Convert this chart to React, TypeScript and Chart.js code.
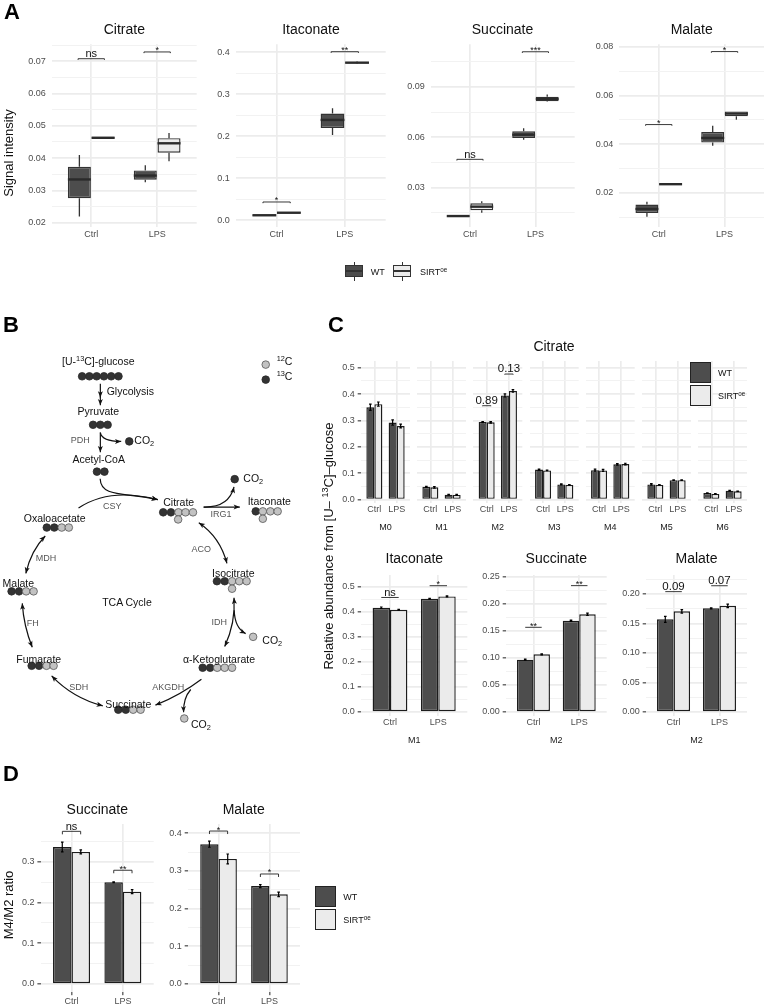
import React, { useEffect, useRef } from "react";
import { Chart, registerables } from "chart.js";

Chart.register(...registerables);
Chart.defaults.font.family = "'Liberation Sans', Arial, sans-serif";

const FONT = "'Liberation Sans', Arial, sans-serif";
const groups = ["Ctrl", "LPS"];
const seriesNames = ["WT", "SIRT"];

// ---------- Panel A: box statistics [low, q1, median, q3, high], Ctrl then LPS
const citrateBoxWT = [[0.0219, 0.0276, 0.0334, 0.0373, 0.041], [0.0325, 0.0333, 0.0346, 0.0362, 0.0378]];
const citrateBoxSIRT = [[0.046, 0.046, 0.0463, 0.0466, 0.0466], [0.039, 0.0417, 0.0446, 0.0462, 0.0478]];
const itaconateBoxWT = [[0.011, 0.011, 0.012, 0.013, 0.013], [0.203, 0.22, 0.239, 0.254, 0.267]];
const itaconateBoxSIRT = [[0.017, 0.017, 0.018, 0.019, 0.019], [0.373, 0.374, 0.3753, 0.3765, 0.378]];
const succinateBoxWT = [[0.0127, 0.0127, 0.0131, 0.0135, 0.0135], [0.0585, 0.0596, 0.0616, 0.0636, 0.0654]];
const succinateBoxSIRT = [[0.0151, 0.0165, 0.0187, 0.0207, 0.0219], [0.0812, 0.0815, 0.0829, 0.0842, 0.0856]];
const malateBoxWT = [[0.0101, 0.0117, 0.0133, 0.0151, 0.0163], [0.0393, 0.0406, 0.0425, 0.0449, 0.0475]];
const malateBoxSIRT = [[0.0233, 0.0233, 0.0235, 0.0237, 0.0237], [0.05, 0.0514, 0.0525, 0.0534, 0.0534]];

const citrateBrackets = [[1, 0.0708, "ns"], [2, 0.0729, "*"]];
const itaconateBrackets = [[1, 0.0436, "*"], [2, 0.4014, "**"]];
const succinateBrackets = [[1, 0.0469, "ns"], [2, 0.111, "***"]];
const malateBrackets = [[1, 0.048, "*"], [2, 0.078, "*"]];

// ---------- Panel C: citrate isotopologues M0..M6 (Ctrl, LPS)
const isotopologues = ["M0", "M1", "M2", "M3", "M4", "M5", "M6"];
const citrateMeansWT = [[0.35, 0.292], [0.049, 0.019], [0.294, 0.395], [0.114, 0.058], [0.112, 0.134], [0.058, 0.074], [0.025, 0.034]];
const citrateMeansSIRT = [[0.362, 0.279], [0.047, 0.018], [0.293, 0.412], [0.111, 0.056], [0.111, 0.135], [0.056, 0.074], [0.022, 0.032]];
const citrateErrorWT = [[0.012, 0.01], [0.002, 0.001], [0.002, 0.006], [0.002, 0.002], [0.004, 0.003], [0.003, 0.001], [0.001, 0.001]];
const citrateErrorSIRT = [[0.008, 0.007], [0.003, 0.002], [0.003, 0.005], [0.001, 0.001], [0.004, 0.003], [0.001, 0.001], [0.001, 0.001]];
const citrateFacetBrackets = [[], [], [[1, 0.356, "0.89"], [2, 0.476, "0.13"]], [], [], [], []];

const itaconateM1WT = [0.416, 0.452];
const itaconateM1SIRT = [0.408, 0.461];
const itaconateM1ErrWT = [0.003, 0.002];
const itaconateM1ErrSIRT = [0.002, 0.002];
const itaconateM1Brackets = [[1, 0.457, "ns"], [2, 0.504, "*"]];
const succinateM2WT = [0.0969, 0.169];
const succinateM2SIRT = [0.1068, 0.181];
const succinateM2ErrWT = [0.001, 0.001];
const succinateM2ErrSIRT = [0.001, 0.002];
const succinateM2Brackets = [[1, 0.1568, "**"], [2, 0.234, "**"]];
const malateM2WT = [0.157, 0.1757];
const malateM2SIRT = [0.1706, 0.18];
const malateM2ErrWT = [0.005, 0.001];
const malateM2ErrSIRT = [0.003, 0.003];
const malateM2Brackets = [[1, 0.204, "0.09"], [2, 0.214, "0.07"]];

// ---------- Panel D: M4/M2 ratio
const ratioSuccinateWT = [0.336, 0.2494];
const ratioSuccinateSIRT = [0.324, 0.2265];
const ratioSuccinateErrWT = [0.012, 0.001];
const ratioSuccinateErrSIRT = [0.005, 0.005];
const ratioSuccinateBrackets = [[1, 0.3745, "ns"], [2, 0.279, "**"]];
const ratioMalateWT = [0.371, 0.26];
const ratioMalateSIRT = [0.332, 0.238];
const ratioMalateErrWT = [0.008, 0.004];
const ratioMalateErrSIRT = [0.013, 0.006];
const ratioMalateBrackets = [[1, 0.406, "*"], [2, 0.292, "*"]];

// ---------- Axis ticks
const citrateTicks = [0.02, 0.03, 0.04, 0.05, 0.06, 0.07];
const citrateMinor = [0.025, 0.035, 0.045, 0.055, 0.065, 0.075];
const itaconateTicks = [0, 0.1, 0.2, 0.3, 0.4];
const itaconateMinor = [0.05, 0.15, 0.25, 0.35];
const succinateTicks = [0.03, 0.06, 0.09];
const succinateMinor = [0.015, 0.045, 0.075, 0.105];
const malateTicks = [0.02, 0.04, 0.06, 0.08];
const malateMinor = [0.01, 0.03, 0.05, 0.07];
const tenthsTicks = [0, 0.1, 0.2, 0.3, 0.4, 0.5];
const tenthsMinor = [0.05, 0.15, 0.25, 0.35, 0.45];
const succM2Ticks = [0, 0.05, 0.1, 0.15, 0.2, 0.25];
const succM2Minor = [0.025, 0.075, 0.125, 0.175, 0.225];
const malM2Ticks = [0, 0.05, 0.1, 0.15, 0.2];
const malM2Minor = [0.025, 0.075, 0.125, 0.175, 0.225];
const ratioSuccTicks = [0, 0.1, 0.2, 0.3];
const ratioSuccMinor = [0.05, 0.15, 0.25, 0.35];
const ratioMalTicks = [0, 0.1, 0.2, 0.3, 0.4];
const ratioMalMinor = [0.05, 0.15, 0.25, 0.35];

// ---------- Pathway schematic (panel B), in page units
const carbon13 = [
  [79.7, 372.3], [87.2, 372.3], [94.7, 372.3], [102.2, 372.3], [109.7, 372.3], [117.2, 372.3],
  [91, 422], [98.5, 422], [106, 422], [95, 470], [102.7, 470], [128.3, 439], [269, 375.7],
  [163.3, 511.7], [171.3, 511.7], [237, 477.7], [258.7, 510.7], [43.3, 527.3], [51, 527.3],
  [218.7, 582.3], [226.7, 582.3], [7, 592.7], [14.7, 592.7], [27.7, 669], [35.3, 669],
  [204, 671], [211.7, 671], [117, 714], [124.7, 714],
];
const carbon12 = [
  [269, 360.3], [179, 511.7], [186.3, 511.7], [194, 511.7], [178.7, 519],
  [266, 510.7], [273.7, 510.7], [281.3, 510.7], [266, 518.3], [58.7, 527.3], [66, 527.3],
  [234.3, 582.3], [241.7, 582.3], [249.3, 582.3], [234.3, 590], [22, 592.7], [29.7, 592.7],
  [43, 669], [50.3, 669], [219, 671], [226.7, 671], [234.3, 671], [132.3, 714], [140, 714],
  [256, 639.3], [185, 723],
];
// points (3 = quadratic, 4 = cubic), then whether start / end carry a head
const reactionArrows: [number[][], boolean, boolean][] = [
  [[[98.5, 380], [98.5, 387], [98.5, 394]], false, true],
  [[[98.5, 392], [98.5, 397], [98.5, 402]], false, true],
  [[[98.5, 430], [98.5, 440], [98.5, 450]], false, true],
  [[[98.5, 430], [100, 439], [120, 439]], false, true],
  [[[98.3, 477.3], [99, 497], [125, 491], [157.7, 498.7]], false, true],
  [[[76, 507.3], [108, 486], [157.7, 498.7]], false, true],
  [[[205, 506.3], [224, 506.3], [242.3, 506.3]], false, true],
  [[[205, 506.3], [231, 507], [236.3, 485.7]], false, true],
  [[[200, 522.3], [222, 537], [229, 564]], true, true],
  [[[236.3, 599.3], [238, 625], [226.7, 649.3]], true, true],
  [[[236.5, 612], [237, 630], [248.3, 636]], false, true],
  [[[202.7, 682.7], [181, 699], [155.3, 709.3]], false, true],
  [[[191.7, 693.3], [184, 702], [184.3, 716.7]], false, true],
  [[[101, 710], [70, 702], [48.3, 679.3]], true, true],
  [[[28.3, 650], [19.5, 628], [18, 605]], true, true],
  [[[41.7, 536], [27, 551], [21.7, 574.3]], true, true],
];
// text, x, y, kind (m = metabolite, e = enzyme), anchor
const pathwayLabels: [string, number, number, string, string][] = [
  ["[U-^{13}C]-glucose", 98.3, 361, "m", "c"],
  ["Glycolysis", 106.7, 391, "m", "l"],
  ["Pyruvate", 98.3, 410.7, "m", "c"],
  ["PDH", 80.3, 440, "e", "c"],
  ["CO_{2}", 134.3, 440, "m", "l"],
  ["Acetyl-CoA", 98.7, 458.7, "m", "c"],
  ["CO_{2}", 243.3, 478.3, "m", "l"],
  ["CSY", 112.3, 506.3, "e", "c"],
  ["Citrate", 178.7, 502.3, "m", "c"],
  ["IRG1", 221, 514, "e", "c"],
  ["Itaconate", 269.3, 501.3, "m", "c"],
  ["Oxaloacetate", 54.7, 518, "m", "c"],
  ["ACO", 201.3, 548.7, "e", "c"],
  ["MDH", 46, 558.3, "e", "c"],
  ["Isocitrate", 233.3, 572.7, "m", "c"],
  ["Malate", 18.3, 583.3, "m", "c"],
  ["TCA Cycle", 127, 602.3, "m", "c"],
  ["FH", 32.7, 622.7, "e", "c"],
  ["IDH", 219.3, 622, "e", "c"],
  ["CO_{2}", 262.3, 640, "m", "l"],
  ["Fumarate", 38.7, 659.3, "m", "c"],
  ["α-Ketoglutarate", 219, 659.3, "m", "c"],
  ["SDH", 78.7, 686.7, "e", "c"],
  ["AKGDH", 168.3, 686.7, "e", "c"],
  ["Succinate", 128.3, 704.3, "m", "c"],
  ["CO_{2}", 191, 723.7, "m", "l"],
  ["^{12}C", 276.7, 360.7, "m", "l"],
  ["^{13}C", 276.7, 375.7, "m", "l"],
];

// ---------- Shared plot
const WT_FILL = "#4d4d4d";
const SIRT_FILL = "#ebebeb";
const GRID = "#ececec";
const GRID_MINOR = "#f2f2f2";

type PlotSpec = {
  box: number[]; // left, right, top, bottom of plot area
  anchor: number[]; // value, pixel, value, pixel
  major: number[];
  minor: number[];
  decimals: number;
  showY?: boolean;
  yTickMark?: boolean;
  xTickMark?: boolean;
  xTitle?: string;
  xTitleY?: number;
  xPad?: number;
  wt?: number[];
  sirt?: number[];
  errWT?: number[];
  errSIRT?: number[];
  boxWT?: number[][];
  boxSIRT?: number[][];
  brackets?: any[];
  halfBracket?: number;
  tip?: number;
  labelPad?: number;
};

function Plot({ spec }: { spec: PlotSpec }) {
  const ref = useRef<HTMLCanvasElement>(null);
  const [left, right, top, bottom] = spec.box;
  const cl = Math.max(0, Math.floor(left - 60));
  const cr = Math.ceil(right + 14);
  const ct = Math.floor(top - 26);
  const titleSize = 9;
  const B = spec.xTitle ? spec.xTitleY! - bottom + (titleSize * 1.2) / 2 : 24;
  const cb = Math.ceil(bottom + B);
  useEffect(() => {
    const [v1, p1, v2, p2] = spec.anchor;
    const ppu = (p1 - p2) / (v2 - v1);
    const yMin = v1 - (bottom - p1) / ppu;
    const yMax = v1 + (p1 - top) / ppu;
    const isBox = !!spec.boxWT;
    const barData = (vals?: number[], stats?: number[][]) =>
      isBox
        ? stats!.map((s, i) => ({ x: i + 1, y: [s[1], s[3]] }))
        : vals!.map((v, i) => ({ x: i + 1, y: v }));
    const overlay = {
      id: "overlay",
      afterDatasetsDraw(chart: any) {
        const ctx = chart.ctx;
        const ys = chart.scales.y;
        const xs = chart.scales.x;
        ctx.save();
        [0, 1].forEach((d) => {
          const meta = chart.getDatasetMeta(d);
          meta.data.forEach((el: any, i: number) => {
            if (isBox) {
              const s = (d === 0 ? spec.boxWT : spec.boxSIRT)![i];
              ctx.strokeStyle = "#333333";
              ctx.lineWidth = 1.3;
              ctx.beginPath();
              ctx.moveTo(el.x, ys.getPixelForValue(s[0]));
              ctx.lineTo(el.x, ys.getPixelForValue(s[1]));
              ctx.moveTo(el.x, ys.getPixelForValue(s[3]));
              ctx.lineTo(el.x, ys.getPixelForValue(s[4]));
              ctx.stroke();
              ctx.lineWidth = 2.4;
              ctx.strokeStyle = "#2b2b2b";
              ctx.beginPath();
              ctx.moveTo(el.x - el.width / 2, ys.getPixelForValue(s[2]));
              ctx.lineTo(el.x + el.width / 2, ys.getPixelForValue(s[2]));
              ctx.stroke();
            } else {
              const v = (d === 0 ? spec.wt : spec.sirt)![i];
              const e = (d === 0 ? spec.errWT : spec.errSIRT)![i];
              const a = ys.getPixelForValue(v - e);
              const b = ys.getPixelForValue(v + e);
              ctx.strokeStyle = "#000";
              ctx.lineWidth = 1.2;
              ctx.beginPath();
              ctx.moveTo(el.x, a);
              ctx.lineTo(el.x, b);
              ctx.moveTo(el.x - 1.3, a);
              ctx.lineTo(el.x + 1.3, a);
              ctx.moveTo(el.x - 1.3, b);
              ctx.lineTo(el.x + 1.3, b);
              ctx.stroke();
            }
          });
        });
        const hw = spec.halfBracket ?? 0.2;
        const tip = spec.tip ?? 1.2;
        (spec.brackets || []).forEach(([cx, v, label]: any) => {
          const y = ys.getPixelForValue(v);
          const a = xs.getPixelForValue(cx - hw);
          const b = xs.getPixelForValue(cx + hw);
          ctx.strokeStyle = "#222";
          ctx.lineWidth = 0.9;
          ctx.beginPath();
          ctx.moveTo(a, y + tip);
          ctx.lineTo(a, y);
          ctx.lineTo(b, y);
          ctx.lineTo(b, y + tip);
          ctx.stroke();
          const stars = /^\*+$/.test(label);
          ctx.fillStyle = "#111";
          ctx.textAlign = "center";
          ctx.textBaseline = "alphabetic";
          ctx.font = (stars ? 9 : label === "ns" ? 11 : 11.5) + "px " + FONT;
          ctx.fillText(label, xs.getPixelForValue(cx), stars ? y + 1.5 : y - 1.7);
        });
        ctx.restore();
      },
    };
    const chart = new Chart(ref.current!, {
      type: "bar",
      data: {
        datasets: [
          {
            label: seriesNames[0],
            data: barData(spec.wt, spec.boxWT) as any,
            backgroundColor: WT_FILL,
            borderColor: isBox ? "#333333" : "#1c1c1c",
            borderWidth: 1.4,
            borderSkipped: false,
            categoryPercentage: 0.72,
            barPercentage: isBox ? 0.97 : 1,
          },
          {
            label: seriesNames[1],
            data: barData(spec.sirt, spec.boxSIRT) as any,
            backgroundColor: SIRT_FILL,
            borderColor: isBox ? "#333333" : "#1c1c1c",
            borderWidth: 1.4,
            borderSkipped: false,
            categoryPercentage: 0.72,
            barPercentage: isBox ? 0.97 : 1,
          },
        ],
      },
      options: {
        responsive: false,
        maintainAspectRatio: false,
        animation: false,
        events: [],
        layout: {
          padding: { left: 0, top: top - ct, right: cr - right, bottom: cb - bottom - B },
        },
        plugins: { legend: { display: false }, tooltip: { enabled: false } },
        scales: {
          x: {
            type: "linear",
            min: 0.4,
            max: 2.6,
            bounds: "data",
            offset: false,
            border: { display: false },
            afterBuildTicks: (s: any) => {
              s.ticks = groups.map((_, i) => ({ value: i + 1 }));
            },
            afterFit: (s: any) => {
              s.height = B;
            },
            grid: {
              offset: false,
              color: GRID,
              lineWidth: 1.7,
              drawTicks: !!spec.xTickMark,
              tickLength: 3.2,
              tickColor: "#222",
              tickWidth: 1,
            },
            ticks: {
              autoSkip: false,
              maxRotation: 0,
              minRotation: 0,
              padding: spec.xPad ?? 1.9,
              color: "#4d4d4d",
              font: { size: 9 },
              callback: (_v: any, i: number) => groups[i],
            },
            title: spec.xTitle
              ? { display: true, text: spec.xTitle, color: "#1a1a1a", font: { size: titleSize }, padding: 0 }
              : { display: false },
          } as any,
          y: {
            type: "linear",
            min: yMin,
            max: yMax,
            bounds: "data",
            border: { display: false },
            afterBuildTicks: (s: any) => {
              const maj = spec.major.map((v) => ({ value: v, isMajor: true }));
              const mnr = spec.minor.map((v) => ({ value: v, isMajor: false }));
              s.ticks = [...maj, ...mnr].sort((a, b) => a.value - b.value);
            },
            afterFit: (s: any) => {
              s.width = left - cl;
            },
            grid: {
              color: (c: any) => (c.tick?.isMajor ? GRID : GRID_MINOR),
              lineWidth: (c: any) => (c.tick?.isMajor ? 1.7 : 1),
              drawTicks: !!spec.yTickMark,
              tickLength: 3.3,
              tickWidth: 1,
              tickColor: (c: any) => (c.tick?.isMajor && spec.showY ? "#222" : "rgba(0,0,0,0)"),
            },
            ticks: {
              autoSkip: false,
              padding: spec.labelPad ?? 6,
              color: "#4d4d4d",
              font: { size: 9 },
              callback: function (this: any, v: any, i: number, arr: any[]) {
                return spec.showY && arr[i].isMajor ? Number(v).toFixed(spec.decimals) : "";
              },
            },
          } as any,
        },
      },
      plugins: [overlay],
    } as any);
    return () => chart.destroy();
  }, []);
  return (
    <canvas
      ref={ref}
      width={cr - cl}
      height={cb - ct}
      style={{ position: "absolute", left: cl, top: ct, width: cr - cl, height: cb - ct, display: "block" }}
    />
  );
}

function Pathway() {
  const ref = useRef<HTMLCanvasElement>(null);
  useEffect(() => {
    const arrows = {
      id: "arrows",
      afterDatasetsDraw(chart: any) {
        const ctx = chart.ctx;
        const xs = chart.scales.x;
        const ys = chart.scales.y;
        const head = (from: number[], to: number[]) => {
          const ang = Math.atan2(to[1] - from[1], to[0] - from[0]);
          const L = 6.2;
          const W = 2.5;
          ctx.beginPath();
          ctx.moveTo(to[0], to[1]);
          ctx.lineTo(to[0] - L * Math.cos(ang) + W * Math.sin(ang), to[1] - L * Math.sin(ang) - W * Math.cos(ang));
          ctx.lineTo(to[0] - L * 0.75 * Math.cos(ang), to[1] - L * 0.75 * Math.sin(ang));
          ctx.lineTo(to[0] - L * Math.cos(ang) - W * Math.sin(ang), to[1] - L * Math.sin(ang) + W * Math.cos(ang));
          ctx.closePath();
          ctx.fill();
        };
        ctx.save();
        ctx.strokeStyle = "#111";
        ctx.fillStyle = "#111";
        ctx.lineWidth = 1.2;
        reactionArrows.forEach(([raw, hs, he]) => {
          const pts = raw.map((p) => [xs.getPixelForValue(p[0]), ys.getPixelForValue(p[1])]);
          ctx.beginPath();
          ctx.moveTo(pts[0][0], pts[0][1]);
          if (pts.length === 3) ctx.quadraticCurveTo(pts[1][0], pts[1][1], pts[2][0], pts[2][1]);
          else ctx.bezierCurveTo(pts[1][0], pts[1][1], pts[2][0], pts[2][1], pts[3][0], pts[3][1]);
          ctx.stroke();
          if (hs) head(pts[1], pts[0]);
          if (he) head(pts[pts.length - 2], pts[pts.length - 1]);
        });
        ctx.restore();
      },
    };
    const pts = (a: number[][]) => a.map(([x, y]) => ({ x, y }));
    const chart = new Chart(ref.current!, {
      type: "scatter",
      data: {
        datasets: [
          { label: "12C", data: pts(carbon12), backgroundColor: "#c2c2c2", borderColor: "#555", borderWidth: 0.8, pointRadius: 3.8 },
          { label: "13C", data: pts(carbon13), backgroundColor: "#333333", borderColor: "#2a2a2a", borderWidth: 0.8, pointRadius: 3.8 },
        ],
      },
      options: {
        responsive: false,
        maintainAspectRatio: false,
        animation: false,
        events: [],
        plugins: { legend: { display: false }, tooltip: { enabled: false } },
        scales: {
          x: { type: "linear", display: false, min: 0, max: 320 },
          y: { type: "linear", display: false, min: 340, max: 735, reverse: true },
        },
      },
      plugins: [arrows],
    } as any);
    return () => chart.destroy();
  }, []);
  return <canvas ref={ref} width={320} height={395} style={{ position: "absolute", left: 0, top: 340, width: 320, height: 395, display: "block" }} />;
}

function Rich({ text }: { text: string }) {
  const parts = text.split(/(\^\{[^}]*\}|_\{[^}]*\})/);
  return (
    <>
      {parts.map((p, i) => {
        if (p.startsWith("^{"))
          return <span key={i} style={{ fontSize: "0.7em", verticalAlign: "0.45em", lineHeight: 0 }}>{p.slice(2, -1)}</span>;
        if (p.startsWith("_{"))
          return <span key={i} style={{ fontSize: "0.7em", verticalAlign: "-0.25em", lineHeight: 0 }}>{p.slice(2, -1)}</span>;
        return <span key={i}>{p}</span>;
      })}
    </>
  );
}

function Txt({ x, y, text, size = 9, color = "#111", anchor = "c", rotate = false, weight = 400 }: any) {
  const tx = anchor === "c" ? "-50%" : "0";
  return (
    <div
      style={{
        position: "absolute",
        left: x,
        top: y,
        transform: `translate(${rotate ? "-50%" : tx},-50%)` + (rotate ? " rotate(-90deg)" : ""),
        whiteSpace: "nowrap",
        fontFamily: FONT,
        fontSize: size,
        color,
        lineHeight: 1,
        fontWeight: weight,
      }}
    >
      <Rich text={text} />
    </div>
  );
}

function Key({ x, y, fill, s = 21 }: any) {
  return (
    <div
      style={{
        position: "absolute",
        left: x,
        top: y,
        width: s,
        height: s,
        boxSizing: "border-box",
        background: fill,
        border: "1.5px solid #222",
      }}
    />
  );
}

function BoxKey({ x, fill }: any) {
  const left = x;
  return (
    <>
      <div style={{ position: "absolute", left: left + 8.6, top: 262, width: 1, height: 19, background: "#333" }} />
      <div style={{ position: "absolute", left, top: 265, width: 18, height: 12, boxSizing: "border-box", background: fill, border: "1.2px solid #333" }} />
      <div style={{ position: "absolute", left, top: 270.4, width: 18, height: 1.4, background: "#333" }} />
    </>
  );
}

const A_TOP = 44.3;
const A_BOT = 227;
const plotsA: PlotSpec[] = [
  { box: [51.7, 196.7, A_TOP, A_BOT], anchor: [0.02, 222.7, 0.07, 61.3], major: citrateTicks, minor: citrateMinor, decimals: 2, showY: true, boxWT: citrateBoxWT, boxSIRT: citrateBoxSIRT, brackets: citrateBrackets },
  { box: [235.7, 385.7, A_TOP, A_BOT], anchor: [0, 220.3, 0.4, 52.3], major: itaconateTicks, minor: itaconateMinor, decimals: 1, showY: true, boxWT: itaconateBoxWT, boxSIRT: itaconateBoxSIRT, brackets: itaconateBrackets },
  { box: [430.7, 574.7, A_TOP, A_BOT], anchor: [0.03, 187.7, 0.09, 87], major: succinateTicks, minor: succinateMinor, decimals: 2, showY: true, boxWT: succinateBoxWT, boxSIRT: succinateBoxSIRT, brackets: succinateBrackets },
  { box: [619.3, 764, A_TOP, A_BOT], anchor: [0.02, 192.7, 0.08, 46.7], major: malateTicks, minor: malateMinor, decimals: 2, showY: true, boxWT: malateBoxWT, boxSIRT: malateBoxSIRT, brackets: malateBrackets },
];
const facetLefts = [361, 417, 473.3, 529.7, 585.7, 642, 698];
const plotsCTop: PlotSpec[] = isotopologues.map((m, i) => ({
  box: [facetLefts[i], facetLefts[i] + 49, 361, 502.5],
  anchor: [0, 499.7, 0.5, 367.7],
  major: tenthsTicks,
  minor: tenthsMinor,
  decimals: 1,
  showY: i === 0,
  yTickMark: i === 0,
  labelPad: 3,
  xTitle: m,
  xTitleY: 527.5,
  wt: citrateMeansWT[i],
  sirt: citrateMeansSIRT[i],
  errWT: citrateErrorWT[i],
  errSIRT: citrateErrorSIRT[i],
  brackets: citrateFacetBrackets[i],
  halfBracket: 0.19,
  tip: 0.5,
}));
const bottomCommon = { decimals: 1, showY: true, yTickMark: true, labelPad: 3, xPad: 1.9, xTitleY: 740.7, halfBracket: 0.18, tip: 0 };
const plotsCBottom: PlotSpec[] = [
  { ...bottomCommon, box: [361, 467.3, 575, 715.5], anchor: [0, 712, 0.5, 586.7], major: tenthsTicks, minor: tenthsMinor, xTitle: "M1", wt: itaconateM1WT, sirt: itaconateM1SIRT, errWT: itaconateM1ErrWT, errSIRT: itaconateM1ErrSIRT, brackets: itaconateM1Brackets },
  { ...bottomCommon, decimals: 2, box: [506, 606.7, 575, 715.5], anchor: [0, 712, 0.25, 577], major: succM2Ticks, minor: succM2Minor, xTitle: "M2", wt: succinateM2WT, sirt: succinateM2SIRT, errWT: succinateM2ErrWT, errSIRT: succinateM2ErrSIRT, brackets: succinateM2Brackets },
  { ...bottomCommon, decimals: 2, box: [646, 747, 575, 715.5], anchor: [0, 712, 0.2, 594], major: malM2Ticks, minor: malM2Minor, xTitle: "M2", wt: malateM2WT, sirt: malateM2SIRT, errWT: malateM2ErrWT, errSIRT: malateM2ErrSIRT, brackets: malateM2Brackets },
];
const dCommon = { decimals: 1, showY: true, yTickMark: true, xTickMark: true, labelPad: 3, xPad: 1.3, halfBracket: 0.178, tip: 3 };
const plotsD: PlotSpec[] = [
  { ...dCommon, box: [40.7, 153.7, 824, 992], anchor: [0, 984, 0.3, 861.7], major: ratioSuccTicks, minor: ratioSuccMinor, wt: ratioSuccinateWT, sirt: ratioSuccinateSIRT, errWT: ratioSuccinateErrWT, errSIRT: ratioSuccinateErrSIRT, brackets: ratioSuccinateBrackets },
  { ...dCommon, box: [188, 300, 824, 992], anchor: [0, 984, 0.4, 833.3], major: ratioMalTicks, minor: ratioMalMinor, wt: ratioMalateWT, sirt: ratioMalateSIRT, errWT: ratioMalateErrWT, errSIRT: ratioMalateErrSIRT, brackets: ratioMalateBrackets },
];

export default function App() {
  return (
    <div style={{ position: "absolute", left: 0, top: 0, width: 765, height: 1006, overflow: "hidden", background: "#fff" }}>
      {[...plotsA, ...plotsCTop, ...plotsCBottom, ...plotsD].map((s, i) => (
        <Plot key={i} spec={s} />
      ))}
      <Pathway />

      <Txt x={4} y={11.5} text="A" size={22} weight={700} color="#000" anchor="l" />
      <Txt x={3} y={324.5} text="B" size={22} weight={700} color="#000" anchor="l" />
      <Txt x={328} y={325} text="C" size={22} weight={700} color="#000" anchor="l" />
      <Txt x={3} y={774} text="D" size={22} weight={700} color="#000" anchor="l" />

      <Txt x={124.3} y={28.5} text="Citrate" size={14} />
      <Txt x={311} y={28.5} text="Itaconate" size={14} />
      <Txt x={502.5} y={28.5} text="Succinate" size={14} />
      <Txt x={691.7} y={28.5} text="Malate" size={14} />
      <Txt x={8.3} y={153} text="Signal intensity" size={13} rotate />

      <BoxKey x={345} fill={WT_FILL} />
      <Txt x={370.7} y={272} text="WT" size={9} anchor="l" />
      <BoxKey x={393.3} fill={SIRT_FILL} />
      <Txt x={420} y={272} text="SIRT^{oe}" size={9} anchor="l" />

      {pathwayLabels.map(([t, x, y, kind, a], i) => (
        <Txt key={i} x={x} y={y} text={t} size={kind === "m" ? 10.5 : 9} color={kind === "m" ? "#111" : "#555"} anchor={a} />
      ))}

      <Txt x={554} y={345.7} text="Citrate" size={14} />
      <Txt x={327.7} y={546} text="Relative abundance from [U– ^{13}C]–glucose" size={13} rotate />
      <Key x={690} y={362} fill={WT_FILL} />
      <Key x={690} y={385} fill={SIRT_FILL} />
      <Txt x={718} y={372.7} text="WT" size={9} anchor="l" />
      <Txt x={718} y={395.7} text="SIRT^{oe}" size={9} anchor="l" />
      <Txt x={414.3} y={558} text="Itaconate" size={14} />
      <Txt x={556.3} y={558} text="Succinate" size={14} />
      <Txt x={696.5} y={558} text="Malate" size={14} />

      <Txt x={97.3} y={808.7} text="Succinate" size={14} />
      <Txt x={243.7} y={808.7} text="Malate" size={14} />
      <Txt x={8.3} y={905} text="M4/M2 ratio" size={13} rotate />
      <Key x={315} y={886} fill={WT_FILL} />
      <Key x={315} y={909} fill={SIRT_FILL} />
      <Txt x={343.3} y={896.7} text="WT" size={9} anchor="l" />
      <Txt x={343.3} y={919.7} text="SIRT^{oe}" size={9} anchor="l" />
    </div>
  );
}
